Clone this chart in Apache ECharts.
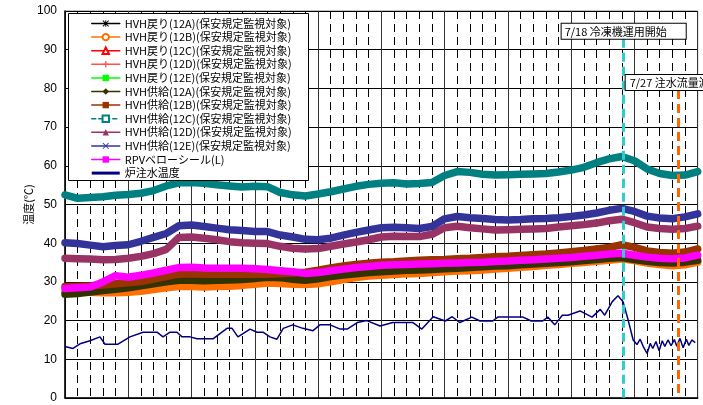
<!DOCTYPE html>
<html><head><meta charset="utf-8">
<script src="https://cdn.jsdelivr.net/npm/echarts@6/dist/echarts.min.js"></script>
<style>html,body{margin:0;padding:0;background:#fff}#c{width:703px;height:405px}</style>
</head><body><div id="c"></div>
<script>
// x positions in days from start (grid for daily-read series)
const days = [0,2,4,6,8,10,12,14,16,18,20,22,24,26,28,30,32,34,36,38,40,42,44,46,48,50,52,54,56,58,60,62,64,66,68,70,72,74,76,78,80,82,84,86,88,90,92,94,96,98,100];

const ret12A = [27.0,27.2,27.5,27.9,28.2,28.6,29.1,29.6,30.1,30.5,30.5,30.4,30.5,30.6,30.7,31.0,31.3,31.2,30.8,30.5,30.9,31.5,31.9,32.2,32.5,32.7,32.9,33.1,33.2,33.3,33.5,33.6,33.8,34.0,34.2,34.3,34.5,34.7,34.9,35.1,35.3,35.6,35.9,36.2,36.4,35.9,35.4,35.1,35.0,35.2,35.7];
const ret12B = [27.5,27.4,27.3,27.2,27.2,27.3,27.6,28.0,28.5,28.8,28.8,28.7,28.8,28.9,29.1,29.4,29.7,29.6,29.4,29.3,29.5,30.0,30.6,31.1,31.5,31.7,31.9,32.1,32.2,32.4,32.6,32.8,32.9,33.1,33.3,33.5,33.8,34.0,34.3,34.5,34.8,35.0,35.3,35.6,36.0,35.5,34.9,34.5,34.2,34.4,35.1];
const ret12C = [27.3,27.5,27.9,28.3,28.6,29.0,29.5,30.0,30.5,30.9,30.9,30.8,30.9,31.0,31.1,31.4,31.7,31.6,31.2,30.9,31.3,31.9,32.3,32.6,32.9,33.1,33.3,33.5,33.6,33.7,33.9,34.0,34.2,34.4,34.6,34.7,34.9,35.1,35.3,35.5,35.7,36.0,36.3,36.6,36.8,36.3,35.8,35.5,35.4,35.6,36.1];
const ret12D = [27.1,27.3,27.7,28.1,28.4,28.8,29.3,29.8,30.3,30.7,30.7,30.6,30.7,30.8,30.9,31.2,31.5,31.4,31.0,30.7,31.1,31.7,32.1,32.4,32.7,32.9,33.1,33.3,33.4,33.5,33.7,33.8,34.0,34.2,34.4,34.5,34.7,34.9,35.1,35.3,35.5,35.8,36.1,36.4,36.6,36.1,35.6,35.3,35.2,35.4,35.9];
const ret12E = [27.6,27.8,28.2,28.6,28.9,29.3,29.8,30.3,30.8,31.2,31.2,31.1,31.2,31.3,31.4,31.7,32.0,31.9,31.5,31.2,31.6,32.2,32.6,32.9,33.2,33.4,33.6,33.8,33.9,34.0,34.2,34.3,34.5,34.7,34.9,35.0,35.2,35.4,35.6,35.8,36.0,36.3,36.6,36.9,37.1,36.6,36.1,35.8,35.7,35.9,36.4];
const sup12A = [26.8,27.0,27.4,27.8,28.1,28.5,29.0,29.5,30.0,30.4,30.4,30.3,30.4,30.5,30.6,30.9,31.2,31.1,30.7,30.4,30.8,31.4,31.8,32.1,32.4,32.6,32.8,33.0,33.1,33.2,33.4,33.5,33.7,33.9,34.1,34.2,34.4,34.6,34.8,35.0,35.2,35.5,35.8,36.1,36.3,35.8,35.3,35.0,34.9,35.1,35.6];
const sup12B = [28.8,28.9,29.0,29.2,29.5,29.8,30.1,30.7,31.4,32.0,32.1,32.0,32.0,32.0,32.0,32.0,32.0,32.1,32.3,32.5,33.0,33.6,34.1,34.5,34.8,35.1,35.2,35.4,35.6,35.7,35.8,36.0,36.1,36.3,36.5,36.6,36.8,37.0,37.2,37.5,37.8,38.1,38.5,38.9,39.6,38.9,38.0,37.6,37.4,37.7,38.5];
const sup12C = [52.5,51.6,51.8,52.0,52.4,52.6,52.9,53.6,54.8,55.6,55.7,55.5,55.1,54.8,54.5,54.7,54.6,53.1,52.5,52.2,52.7,53.3,54.0,54.7,55.2,55.5,55.6,55.3,55.4,55.7,57.5,58.5,58.3,57.8,57.6,57.7,57.8,57.9,58.0,58.4,58.9,59.6,60.8,61.8,62.4,61.3,59.2,58.0,57.5,57.6,58.5];
const sup12D = [36.1,36.0,35.9,35.7,35.8,36.1,36.6,37.3,38.4,41.5,41.6,41.3,40.9,40.4,40.1,40.0,39.9,39.2,38.7,38.5,38.6,39.2,39.8,40.3,40.9,41.6,41.8,41.7,41.7,42.3,44.0,44.4,44.0,43.7,43.4,43.5,43.6,43.7,43.8,44.2,44.5,44.8,45.2,45.8,46.2,45.3,44.2,43.8,43.6,43.8,44.4];
const sup12E = [40.1,39.9,39.5,39.1,39.4,39.6,40.5,41.5,42.5,44.5,44.7,44.3,43.9,43.5,43.3,43.0,43.0,42.1,41.6,41.0,40.9,41.3,42.1,42.8,43.4,44.0,44.1,44.0,43.8,44.3,46.3,46.9,46.6,46.4,46.1,46.0,46.1,46.3,46.4,46.6,46.9,47.3,47.8,48.5,49.0,48.2,47.0,46.5,46.3,46.8,47.6];
const rpvBellows = [28.3,28.5,28.7,30.0,31.6,31.2,31.7,32.3,33.0,33.7,33.8,33.6,33.5,33.5,33.5,33.4,33.2,32.9,32.6,32.2,32.4,32.9,33.3,33.7,34.0,34.3,34.4,34.5,34.6,34.7,34.8,34.9,35.0,35.1,35.3,35.4,35.6,35.7,35.9,36.1,36.3,36.6,36.9,37.2,37.4,36.9,36.4,36.1,36.0,36.2,36.9];

// reactor injection water temperature (irregular readings)
const injDays = [0,1.26,2.37,3.95,5.53,6.32,8.38,10.27,12.33,14.54,15.49,16.6,17.7,18.49,19.76,20.86,23.39,25.6,26.4,27.34,29.24,30.35,31.29,32.4,33.5,34.5,36.0,37.6,39.2,40.3,41.9,43.5,44.6,46.2,47.7,49.8,51.8,55.0,56.4,58.2,60.1,61.2,62.4,64.3,65.6,67.6,68.4,72.4,73.7,75.5,76.3,77.4,78.6,79.5,81.4,83.3,84.6,85.3,86.5,87.4,88.2,89.0,89.8,90.4,90.9,91.4,92.0,92.5,92.9,93.4,93.9,94.4,94.8,95.3,95.8,96.3,96.7,97.2,97.7,98.2,98.6,99.1,99.6];
const injTemp = [13.3,12.8,14.0,14.8,15.8,13.9,13.9,15.8,17.0,17.0,15.8,17.0,17.0,15.8,15.8,15.3,15.3,18.0,18.0,15.8,17.8,17.0,17.0,15.8,15.2,18.0,18.9,18.0,17.4,18.9,18.9,17.8,17.8,19.5,20.0,18.6,19.5,19.5,17.8,21.0,19.9,21.0,19.5,20.9,19.9,19.9,20.9,20.9,19.9,19.9,20.9,18.9,21.4,21.4,22.5,20.9,22.9,21.4,24.9,26.4,24.9,20.2,15.0,13.8,15.2,13.3,11.5,14.1,12.8,14.6,12.2,14.8,13.3,15.0,13.5,15.1,13.4,15.4,13.0,15.2,13.6,15.0,14.3];

// events
const eventDays = [88.3, 97];
const eventTops = [92.8, 79.6];
const eventLabels = ['7/18 冷凍機運用開始', '7/27 注水流量減少'];

const yTicks = [0,10,20,30,40,50,60,70,80,90,100];

const CJK = 'Noto Sans CJK JP';
const P_PLUS = 'path://M4,0H6V4H10V6H6V10H4V6H0V4H4Z';
const P_X = 'path://M1,0L5,4L9,0L10,1L6,5L10,9L9,10L5,6L1,10L0,9L4,5L0,1Z';
const P_AST = 'path://M4.3,0H5.7V4.3H10V5.7H5.7V10H4.3V5.7H0V4.3H4.3Z M1,0L5,4L9,0L10,1L6,5L10,9L9,10L5,6L1,10L0,9L4,5L0,1Z';
const P_DASH = 'path://M0,4H10V6H0Z';
const P_BAR = 'path://M0,0H28V3H0Z';

function pairs(xs, ys){ return xs.map((x,i)=>[x, ys[i]]); }

const seriesDefs = [
  {name:'HVH戻り(12A)(保安規定監視対象)', color:'#000000', vals:ret12A, symbol:P_AST, w:5},
  {name:'HVH戻り(12B)(保安規定監視対象)', color:'#FF7000', vals:ret12B, symbol:'emptyCircle', w:7.5},
  {name:'HVH戻り(12C)(保安規定監視対象)', color:'#FF0000', vals:ret12C, symbol:'emptyTriangle', w:5},
  {name:'HVH戻り(12D)(保安規定監視対象)', color:'#FF5050', vals:ret12D, symbol:P_PLUS, w:5},
  {name:'HVH戻り(12E)(保安規定監視対象)', color:'#00FF00', vals:ret12E, symbol:P_DASH, w:5},
  {name:'HVH供給(12A)(保安規定監視対象)', color:'#333300', vals:sup12A, symbol:'diamond', w:7.5},
  {name:'HVH供給(12B)(保安規定監視対象)', color:'#993300', vals:sup12B, symbol:'rect', w:7.5},
  {name:'HVH供給(12C)(保安規定監視対象)', color:'#008080', vals:sup12C, symbol:'emptyRect', w:7.5, legendDash:true},
  {name:'HVH供給(12D)(保安規定監視対象)', color:'#993366', vals:sup12D, symbol:'triangle', w:7.5},
  {name:'HVH供給(12E)(保安規定監視対象)', color:'#333399', vals:sup12E, symbol:P_X, w:7.5},
  {name:'RPVベローシール(L)', color:'#FF00FF', vals:rpvBellows, symbol:'rect', w:7.5}
];

const series = seriesDefs.map(d => ({
  type:'line', name:d.name, data:pairs(days, d.vals),
  symbol:d.symbol, symbolSize:7, showSymbol:false,
  itemStyle:{color:d.color},
  lineStyle:{color:d.color, width:d.w, cap:'round', join:'round'},
  animation:false, silent:true
}));

series.push({
  type:'line', name:'炉注水温度', data:pairs(injDays, injTemp),
  symbol:'none', showSymbol:false,
  itemStyle:{color:'#000080'},
  lineStyle:{color:'#000080', width:1.5},
  animation:false, silent:true,
  markLine:{
    silent:true, symbol:['none','none'], animation:false,
    data: eventDays.map((d,i)=>[
      {coord:[d, eventTops[i]],
       lineStyle:{color: i===0 ? '#33CCCC' : '#FF6600', width:3, type:[9,5]},
       label:{show:true, position:'start', distance:0, formatter:eventLabels[i],
              color:'#000', fontSize:11, fontFamily:CJK, lineHeight:12,
              backgroundColor:'#fff', borderColor:'#000', borderWidth:1,
              padding: i===0 ? [2,19,1,3] : [2,11,1,4]}},
      {coord:[d, 0]}
    ])
  }
});

const legendData = seriesDefs.map(d => d.legendDash ? {name:d.name, lineStyle:{type:[4,3], width:1.5}} : {name:d.name});
legendData.push({name:'炉注水温度', icon:P_BAR, itemStyle:{color:'#000080'}});

const option = {
  backgroundColor:'#fff',
  animation:false,
  grid:{left:65, right:5.3, top:11, bottom:7, show:true, borderColor:'#808080', borderWidth:1},
  xAxis:{type:'value', min:0, max:100, interval:10,
    axisLine:{show:true, onZero:false, lineStyle:{color:'#000', width:1.5}},
    axisTick:{show:false}, axisLabel:{show:false},
    splitLine:{show:true, lineStyle:{color:'#333', width:1}},
    minorTick:{show:false, splitNumber:5},
    minorSplitLine:{show:true, lineStyle:{color:'#000', width:1, type:[8,5]}}
  },
  yAxis:{type:'value', min:yTicks[0], max:yTicks[yTicks.length-1], interval:10,
    name:'温度(℃)', nameLocation:'middle', nameGap:31, nameRotate:90, nameMoveOverlap:false,
    nameTextStyle:{fontSize:11, fontFamily:CJK, color:'#000'},
    axisLine:{show:true, lineStyle:{color:'#000', width:1.5}},
    axisTick:{show:false},
    axisLabel:{fontSize:12, fontFamily:'Liberation Sans', color:'#000', margin:8},
    splitLine:{show:true, lineStyle:{color:'#000', width:1}}
  },
  legend:{orient:'vertical', left:86, top:13, padding:5, itemWidth:28, itemHeight:8, itemGap:2.6,
    textStyle:{fontSize:11, fontFamily:CJK, color:'#000', lineHeight:10},
    lineStyle:{width:1.5}, itemStyle:{borderWidth:1}, symbolKeepAspect:true,
    data:legendData, selectedMode:false, z:5},
  graphic:[{type:'rect', z:4, shape:{x:68.5, y:13.5, width:240, height:167},
    style:{fill:'#fff', stroke:'#000', lineWidth:1}, silent:true}],
  series:series
};

const chart = echarts.init(document.getElementById('c'));
chart.setOption(option);
</script>
</body></html>
